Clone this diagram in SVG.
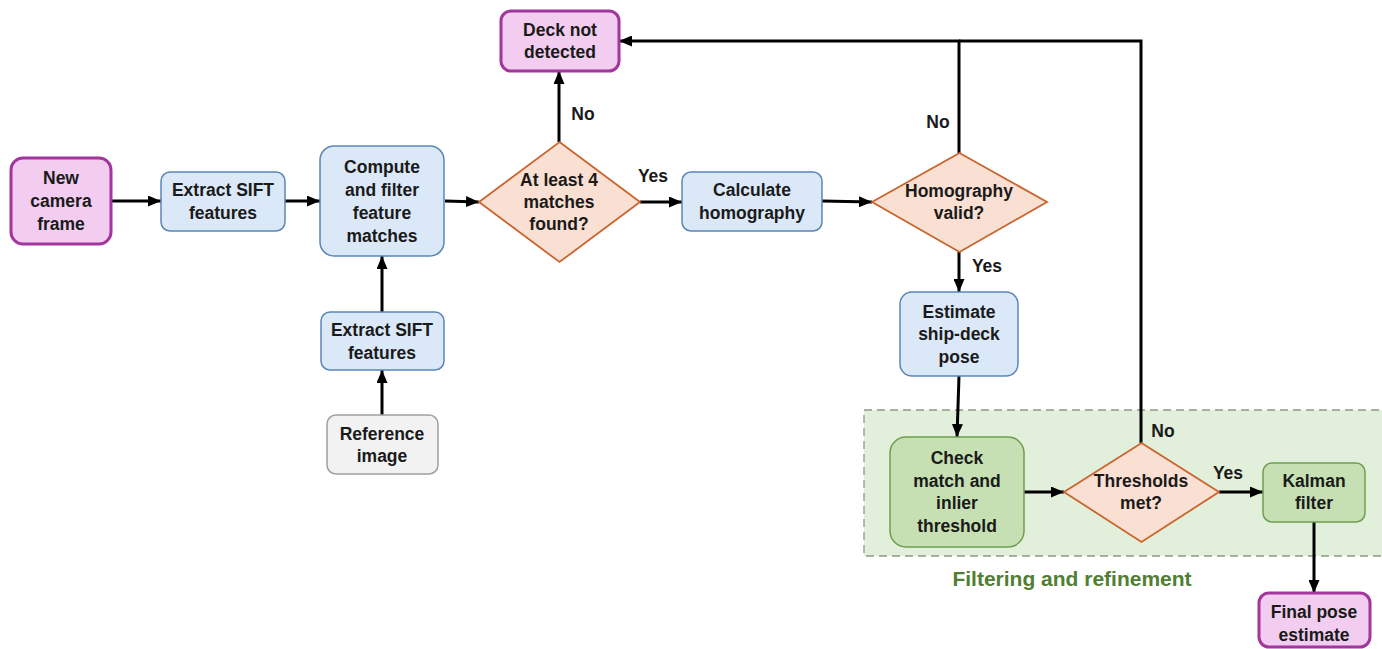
<svg xmlns="http://www.w3.org/2000/svg" width="1382" height="649" viewBox="0 0 1382 649">
<defs>
<marker id="ah" viewBox="0 0 13 11" refX="13" refY="5.5" markerWidth="13" markerHeight="11" markerUnits="userSpaceOnUse" orient="auto">
<path d="M0,0 L13,5.5 L0,11 Z" fill="#000"/>
</marker>
<style>
text{font-family:"Liberation Sans",Arial,sans-serif;font-weight:bold;font-size:17.5px;fill:#1a1a1a;text-anchor:middle}
.mag{fill:#F2CDEF;stroke:#A2359E;stroke-width:3}
.blue{fill:#DAE8F7;stroke:#5A86B6;stroke-width:1.5}
.dia{fill:#FAE0D2;stroke:#C8652E;stroke-width:1.8}
.grn{fill:#C6E0B4;stroke:#6E9E50;stroke-width:1.5}
.gry{fill:#F2F2F2;stroke:#A0A0A0;stroke-width:1.5}
.c{fill:none;stroke:#000;stroke-width:3}
.lbl{font-size:17.5px}
</style>
</defs>
<rect width="1382" height="649" fill="#fff"/>
<g id="group-filtering">
<rect x="864" y="410" width="530" height="146" fill="#E2EFDA" stroke="#8C9C84" stroke-width="1.3" stroke-dasharray="8,5"/>
<text x="1072" y="586" style="font-size:21px;fill:#507E32">Filtering and refinement</text>
</g>
<g id="connectors">
<line class="c" x1="112" y1="201" x2="161" y2="201" marker-end="url(#ah)"/>
<line class="c" x1="285" y1="201" x2="320" y2="201" marker-end="url(#ah)"/>
<line class="c" x1="445" y1="201" x2="479" y2="202" marker-end="url(#ah)"/>
<line class="c" x1="640" y1="202" x2="682" y2="202" marker-end="url(#ah)"/>
<line class="c" x1="822" y1="201" x2="872" y2="202" marker-end="url(#ah)"/>
<line class="c" x1="559" y1="142" x2="559" y2="71" marker-end="url(#ah)"/>
<polyline class="c" points="959,153 959,41 619,41" marker-end="url(#ah)"/>
<polyline class="c" points="1141,443 1141,41 959,41"/>
<line class="c" x1="959" y1="252" x2="959" y2="292" marker-end="url(#ah)"/>
<line class="c" x1="959" y1="376" x2="957" y2="437" marker-end="url(#ah)"/>
<line class="c" x1="1024" y1="492" x2="1064" y2="492" marker-end="url(#ah)"/>
<line class="c" x1="1219" y1="492" x2="1263" y2="492" marker-end="url(#ah)"/>
<line class="c" x1="1314" y1="522" x2="1314" y2="593" marker-end="url(#ah)"/>
<line class="c" x1="382" y1="312" x2="382" y2="256" marker-end="url(#ah)"/>
<line class="c" x1="382" y1="415" x2="382" y2="370" marker-end="url(#ah)"/>
<text class="lbl" x="583" y="120">No</text>
<text class="lbl" x="653" y="182">Yes</text>
<text class="lbl" x="938" y="128">No</text>
<text class="lbl" x="987" y="272">Yes</text>
<text class="lbl" x="1163" y="437">No</text>
<text class="lbl" x="1228" y="479">Yes</text>
</g>
<g id="node-new-camera-frame">
<rect class="mag" x="11" y="158" width="100" height="86" rx="12"/>
<text x="61" y="184">New</text><text x="61" y="207">camera</text><text x="61" y="230">frame</text>
</g>
<g id="node-extract-sift-1">
<rect class="blue" x="161" y="172" width="124" height="59" rx="9"/>
<text x="223" y="196">Extract SIFT</text><text x="223" y="219">features</text>
</g>
<g id="node-compute-filter">
<rect class="blue" x="320" y="146" width="124" height="110" rx="14"/>
<text x="382" y="173">Compute</text><text x="382" y="196">and filter</text><text x="382" y="219">feature</text><text x="382" y="242">matches</text>
</g>
<g id="node-extract-sift-2">
<rect class="blue" x="321" y="312" width="123" height="58" rx="9"/>
<text x="382" y="336">Extract SIFT</text><text x="382" y="359">features</text>
</g>
<g id="node-reference-image">
<rect class="gry" x="327" y="415" width="111" height="59" rx="9"/>
<text x="382" y="440">Reference</text><text x="382" y="462">image</text>
</g>
<g id="node-at-least-4">
<polygon class="dia" points="559.5,142 640,202 559.5,262 479,202"/>
<text x="559" y="186">At least 4</text><text x="559" y="208">matches</text><text x="559" y="230">found?</text>
</g>
<g id="node-deck-not-detected">
<rect class="mag" x="501" y="11" width="118" height="60" rx="10"/>
<text x="560" y="36">Deck not</text><text x="560" y="58">detected</text>
</g>
<g id="node-calculate-homography">
<rect class="blue" x="682" y="172" width="140" height="59" rx="9"/>
<text x="752" y="196">Calculate</text><text x="752" y="219">homography</text>
</g>
<g id="node-homography-valid">
<polygon class="dia" points="959.5,153 1047,202 959.5,252 872,202"/>
<text x="959" y="197">Homography</text><text x="959" y="219">valid?</text>
</g>
<g id="node-estimate-pose">
<rect class="blue" x="900" y="292" width="118" height="84" rx="12"/>
<text x="959" y="318">Estimate</text><text x="959" y="340">ship-deck</text><text x="959" y="363">pose</text>
</g>
<g id="node-check-match">
<rect class="grn" x="890" y="437" width="134" height="110" rx="16"/>
<text x="957" y="464">Check</text><text x="957" y="487">match and</text><text x="957" y="509">inlier</text><text x="957" y="532">threshold</text>
</g>
<g id="node-thresholds-met">
<polygon class="dia" points="1141.5,443 1219,492 1141.5,542 1064,492"/>
<text x="1141" y="487">Thresholds</text><text x="1141" y="509">met?</text>
</g>
<g id="node-kalman">
<rect class="grn" x="1263" y="463" width="102" height="59" rx="9"/>
<text x="1314" y="487">Kalman</text><text x="1314" y="509">filter</text>
</g>
<g id="node-final-pose">
<rect class="mag" x="1259" y="593" width="111" height="54" rx="10"/>
<text x="1314" y="618">Final pose</text><text x="1314" y="641">estimate</text>
</g>
</svg>
